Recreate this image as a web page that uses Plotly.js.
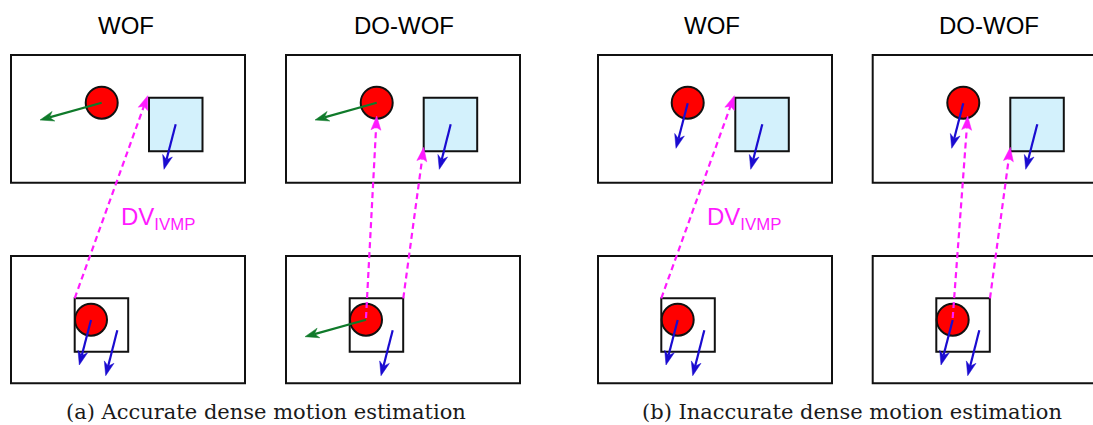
<!DOCTYPE html>
<html><head><meta charset="utf-8">
<script src="https://cdn.plot.ly/plotly-3.0.1.min.js"></script>
<style>html,body{margin:0;padding:0;background:#fff}#chart{width:1093px;height:425px}</style>
</head><body><div id="chart"></div>
<script>
// ---- text ----
const columnLabels = ['WOF', 'DO-WOF', 'WOF', 'DO-WOF'];
const columnLabelX = [125.5, 404, 711.5, 989];
const captions = ['(a) Accurate dense motion estimation', '(b) Inaccurate dense motion estimation'];
const captionX = [265.5, 852];
const dvLabelX = [118.7, 705];

// ---- frames (image boxes) ----
const frameX0 = [11, 286, 598, 872.7];
const frameWidth = 234;
const frameTopRow = [55, 182.7];
const frameBottomRow = [256, 383.3];

// ---- objects in the current (top) frame ----
const circleTopX = [101.7, 376.7, 687.7, 963.3];
const circleTopY = 102.7;
const circleR = 16;
const squareTopX0 = [149, 423.7, 735.3, 1010.3];
const squareSize = 53.5;
const squareTopY0 = 97.7;

// ---- objects in the reference (bottom) frame ----
const blockBottomX0 = [74.7, 349.7, 661.3, 936.3];
const blockBottomY0 = 298.3;
const circleBottomX = [91, 366, 677.7, 952.7];
const circleBottomY = 319.7;

// ---- motion vectors: [tailX, tailY, tipX, tipY] ----
const greenArrows = [
  [101.7, 102.7, 40, 120],
  [376.7, 102.7, 315, 120],
  [366, 319.7, 305, 336.7]
];
const blueArrows = [
  [175.7, 124.3, 164, 169.3],
  [450.7, 124.3, 439.3, 169.3],
  [91, 320, 79.3, 365],
  [117.3, 330.3, 105.7, 375.7],
  [392.7, 330.3, 381, 375.7],
  [687.7, 103.3, 676, 148.3],
  [762.3, 124.3, 750.7, 169.3],
  [963.3, 103.3, 951.7, 148.3],
  [1037.3, 124.3, 1025.7, 169.3],
  [677.7, 320, 666, 365],
  [704.3, 330.3, 692.7, 375.7],
  [952.7, 320, 941, 365],
  [979.3, 330.3, 967.7, 375.7]
];
const dvArrows = [
  [74.7, 298.3, 147.7, 95.7],
  [366, 318, 376.7, 116],
  [403.3, 298.3, 423.7, 147.3],
  [661.3, 298.3, 734.3, 95.7],
  [952.7, 318, 967.7, 116],
  [990, 298.3, 1010.3, 147.3]
];

const BLACK = '#111111', RED = '#ff0000', CYAN = '#d3f1fc';
const GREEN = '#0f7a2a', BLUE = '#1a0bd0', MAGENTA = '#ff1aff';

const shapes = [];
const annotations = [];

// frames
frameX0.forEach(x0 => {
  [frameTopRow, frameBottomRow].forEach(r => {
    shapes.push({type: 'rect', xref: 'x', yref: 'y', x0: x0, x1: x0 + frameWidth, y0: r[0], y1: r[1],
      line: {color: BLACK, width: 2}, fillcolor: 'rgba(0,0,0,0)'});
  });
});
// top squares
squareTopX0.forEach(x0 => {
  shapes.push({type: 'rect', xref: 'x', yref: 'y', x0: x0, x1: x0 + squareSize, y0: squareTopY0, y1: squareTopY0 + squareSize,
    line: {color: BLACK, width: 2}, fillcolor: CYAN});
});
// bottom blocks
blockBottomX0.forEach(x0 => {
  shapes.push({type: 'rect', xref: 'x', yref: 'y', x0: x0, x1: x0 + squareSize, y0: blockBottomY0, y1: blockBottomY0 + squareSize,
    line: {color: BLACK, width: 2}, fillcolor: 'rgba(0,0,0,0)'});
});
// circles
circleTopX.forEach(cx => {
  shapes.push({type: 'circle', xref: 'x', yref: 'y', x0: cx - circleR, x1: cx + circleR, y0: circleTopY - circleR, y1: circleTopY + circleR,
    line: {color: BLACK, width: 2}, fillcolor: RED});
});
circleBottomX.forEach(cx => {
  shapes.push({type: 'circle', xref: 'x', yref: 'y', x0: cx - circleR, x1: cx + circleR, y0: circleBottomY - circleR, y1: circleBottomY + circleR,
    line: {color: BLACK, width: 2}, fillcolor: RED});
});

function arrow(a, color, width, L, W, notch, dash) {
  const [x0, y0, x1, y1] = a;
  const dx = x1 - x0, dy = y1 - y0, len = Math.hypot(dx, dy);
  const ux = dx / len, uy = dy / len, nx = -uy, ny = ux;
  const ex = x1 - ux * L * notch, ey = y1 - uy * L * notch;
  shapes.push({type: 'line', xref: 'x', yref: 'y', x0: x0, y0: y0, x1: ex, y1: ey,
    line: {color: color, width: width, dash: dash || 'solid'}});
  const bx = x1 - ux * L, by = y1 - uy * L;
  const p = 'M' + x1 + ',' + y1 +
    ' L' + (bx + nx * W / 2) + ',' + (by + ny * W / 2) +
    ' L' + ex + ',' + ey +
    ' L' + (bx - nx * W / 2) + ',' + (by - ny * W / 2) + ' Z';
  shapes.push({type: 'path', xref: 'x', yref: 'y', path: p, fillcolor: color, line: {color: color, width: 0.5}});
}
dvArrows.forEach(a => arrow(a, MAGENTA, 2.2, 14, 10, 0.8, '6px,4px'));
greenArrows.forEach(a => arrow(a, GREEN, 2.2, 14, 10, 0.7));
blueArrows.forEach(a => arrow(a, BLUE, 2.2, 14, 10, 0.7));

// labels
columnLabels.forEach((t, i) => {
  annotations.push({x: columnLabelX[i], y: 25, xref: 'x', yref: 'y', text: t, showarrow: false,
    xanchor: 'center', yanchor: 'middle', font: {family: 'Liberation Sans, Arial, sans-serif', size: 24, color: '#000'}});
});
dvLabelX.forEach(x => {
  annotations.push({x: x, y: 218, xref: 'x', yref: 'y', text: 'DV<sub>IVMP</sub>', showarrow: false,
    xanchor: 'left', yanchor: 'middle', font: {family: 'Liberation Sans, Arial, sans-serif', size: 24, color: MAGENTA}});
});
captions.forEach((t, i) => {
  annotations.push({x: captionX[i], y: 412, xref: 'x', yref: 'y', text: t, showarrow: false,
    xanchor: 'center', yanchor: 'middle', font: {family: 'DejaVu Serif, serif', size: 21, color: '#1a1a1a'}});
});

const layout = {
  width: 1093, height: 425,
  margin: {l: 0, r: 0, t: 0, b: 0},
  paper_bgcolor: '#fff', plot_bgcolor: '#fff',
  xaxis: {range: [0, 1093], visible: false, fixedrange: true},
  yaxis: {range: [425, 0], visible: false, fixedrange: true},
  showlegend: false,
  shapes: shapes,
  annotations: annotations
};
Plotly.newPlot('chart', [{x: [], y: [], type: 'scatter', mode: 'markers', hoverinfo: 'skip'}], layout, {staticPlot: true, displayModeBar: false});
</script>
</body></html>
